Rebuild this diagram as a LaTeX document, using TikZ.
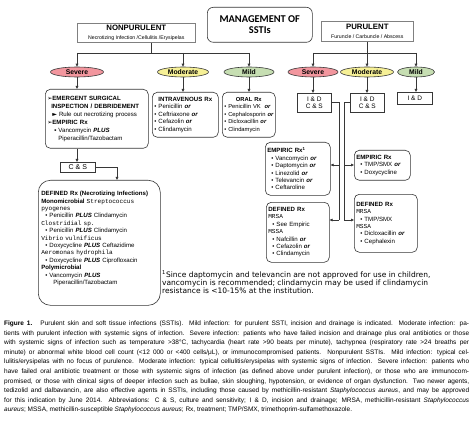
\documentclass[tikz,border=0pt]{standalone}
\usepackage{fontspec}
\setmainfont{Liberation Sans}
\setmonofont{Liberation Mono}
\newfontfamily\titlefont{Carlito}
\newfontfamily\symfont{DejaVu Sans}
\usetikzlibrary{shapes.geometric,arrows.meta}
\definecolor{sevfill}{RGB}{242,150,158}
\definecolor{modfill}{RGB}{246,240,150}
\definecolor{mildfill}{RGB}{198,222,178}
\definecolor{edge}{RGB}{55,55,55}
\newcommand{\bor}{\textbf{\textit{or}}}
\newcommand{\bplus}{\textbf{\textit{PLUS}}}
\newcommand{\species}[1]{{\ttfamily #1}}
\newcommand{\bul}{\hspace*{4pt}•\ }

\begin{document}
\begin{tikzpicture}[x=1pt, y=-1pt,
    every node/.style={font=\fontsize{6.1}{7.4}\selectfont, inner sep=2pt},
    sqbox/.style={draw=edge, line width=0.6pt, anchor=north west},
    rbox/.style={sqbox, rounded corners=5pt, align=left},
    oval/.style={ellipse, draw=edge, line width=0.6pt, minimum height=10pt, inner sep=0pt, font=\fontsize{6.8}{7}\selectfont\bfseries},
    link/.style={draw=edge, line width=0.7pt},
    arr/.style={link, -{Triangle[length=3pt,width=2.6pt]}}]
  \fill[white] (0,0) rectangle (474,425);
  \useasboundingbox (0,0) rectangle (474,425);

  \node[sqbox, rounded corners=6pt, minimum width=105pt, minimum height=35pt, align=center,
        font=\titlefont\bfseries\fontsize{10.4}{11.5}\selectfont] (mgmt) at (207,7) {MANAGEMENT OF\\SSTIs};
  \node[sqbox, draw=gray, minimum width=118pt, minimum height=19pt, align=center, inner sep=1pt,
        font=\fontsize{7.8}{8.6}\selectfont] (nonpur) at (77,23)
        {\textbf{NONPURULENT}\\{\fontsize{5.2}{6}\selectfont Necrotizing Infection /Cellulitis /Erysipelas}};
  \node[sqbox, draw=gray, minimum width=92pt, minimum height=20pt, align=center, inner sep=1pt,
        font=\fontsize{7.8}{8.6}\selectfont] (pur) at (321,21)
        {\textbf{PURULENT}\\{\fontsize{5.2}{6}\selectfont Furuncle / Carbuncle / Abscess}};

  \node[oval, fill=sevfill, minimum width=53pt] (sev1) at (77,72) {Severe};
  \node[oval, fill=modfill, minimum width=51pt] (mod1) at (183,72) {Moderate};
  \node[oval, fill=mildfill, minimum width=50pt] (mild1) at (249,72) {Mild};
  \node[oval, fill=sevfill, minimum width=50pt] (sev2) at (313,72) {Severe};
  \node[oval, fill=modfill, minimum width=53pt] (mod2) at (367,72) {Moderate};
  \node[oval, fill=mildfill, minimum width=37pt] (mild2) at (416,72) {Mild};

  \node[rbox, text width=99pt, minimum height=59pt, font=\fontsize{6.1}{8}\selectfont] (emerg) at (45,89)
    {{\symfont ➢}\textbf{EMERGENT SURGICAL}\\
     \hspace*{4pt}\textbf{INSPECTION / DEBRIDEMENT}\\
     \hspace*{5pt}{\symfont ►} Rule out necrotizing process\\
     {\symfont ➢}\textbf{EMPIRIC Rx}\\
     \hspace*{7pt}▪\ Vancomycin \bplus\\
     \hspace*{11pt}Piperacillin/Tazobactam};
  \node[sqbox, minimum width=35pt, minimum height=10pt, inner sep=0pt, font=\fontsize{7}{8}\selectfont] (cs1) at (60,162) {C \& S};
  \node[rbox, rounded corners=12pt, text width=116pt, minimum height=125pt, inner xsep=3pt] (necro) at (38,180)
    {\textbf{DEFINED Rx (Necrotizing Infections)}\\
     \textbf{Monomicrobial} \species{Streptococcus}\\
     \species{pyogenes}\\
     \bul Penicillin \bplus\ Clindamycin\\
     \species{Clostridial sp.}\\
     \bul Penicillin \bplus\ Clindamycin\\
     \species{Vibrio vulnificus}\\
     \bul Doxycycline \bplus\ Ceftazidime\\
     \species{Aeromonas hydrophila}\\
     \bul Doxycycline \bplus\ Ciprofloxacin\\
     \textbf{Polymicrobial}\\
     \bul Vancomycin \bplus\\
     \hspace*{12pt}Piperacillin/Tazobactam\\[2.6pt]\mbox{}};

  \node[rbox, text width=62pt, minimum height=45pt] (iv) at (152,92)
    {\makebox[\linewidth]{\textbf{INTRAVENOUS Rx}}\\
     • Penicillin \bor\\ • Ceftriaxone \bor\\ • Cefazolin \bor\\ • Clindamycin};
  \node[rbox, text width=52pt, minimum height=45pt, inner xsep=0.5pt, font=\fontsize{5.8}{7.4}\selectfont] (oral) at (222,92)
    {\makebox[\linewidth]{\textbf{ORAL Rx}}\\
     \hspace*{1.5pt}• Penicillin VK\ \ \bor\\ \hspace*{1.5pt}• Cephalosporin \bor\\ \hspace*{1.5pt}• Dicloxacillin \bor\\ \hspace*{1.5pt}• Clindamycin};

  \node[sqbox, minimum width=34pt, minimum height=19pt, inner sep=0pt, align=center, font=\fontsize{6.5}{7.5}\selectfont] (id1) at (297,93) {I \& D\\C \& S};
  \node[sqbox, minimum width=34pt, minimum height=19pt, inner sep=0pt, align=center, font=\fontsize{6.5}{7.5}\selectfont] (id2) at (350,93) {I \& D\\C \& S};
  \node[sqbox, minimum width=35pt, minimum height=12pt, inner sep=0pt, font=\fontsize{6.5}{7.5}\selectfont] (id3) at (397,92) {I \& D};

  \node[rbox, text width=61pt, minimum height=53pt] (emp1) at (265,142)
    {\textbf{EMPIRIC Rx\textsuperscript{1}}\\
     \bul Vancomycin \bor\\ \bul Daptomycin \bor\\ \bul Linezolid \bor\\ \bul Televancin \bor\\ \bul Ceftaroline};
  \node[rbox, text width=52pt, minimum height=30pt] (emp2) at (354,150)
    {\textbf{EMPIRIC Rx}\\ \bul TMP/SMX \bor\\ \bul Doxycycline};
  \node[rbox, text width=59pt, minimum height=60pt] (def1) at (266,202)
    {\textbf{DEFINED Rx}\\ \species{MRSA}\\ \bul See Empiric\\ \species{MSSA}\\
     \bul Nafcillin \bor\\ \bul Cefazolin \bor\\ \bul Clindamycin};
  \node[rbox, text width=59pt, minimum height=58pt] (def2) at (354,194)
    {\textbf{DEFINED Rx}\\ \species{MRSA}\\ \bul TMP/SMX\\ \species{MSSA}\\
     \bul Dicloxacillin \bor\\ \bul Cephalexin};

  \node[anchor=north west, align=left, inner sep=0pt, font=\symfont\fontsize{7.5}{8.2}\selectfont] (note) at (162,270)
    {\textsuperscript{1}Since daptomycin and televancin are not approved for use in children,\\
     vancomycin is recommended; clindamycin may be used if clindamycin\\
     resistance is <10-15\% at the institution.};

  \node[anchor=north west, text width=465pt, align=justify, inner sep=0pt, font=\fontsize{6.5}{9.6}\selectfont] (caption) at (4,320.5)
    {\textbf{Figure 1.}\hspace{8pt}Purulent skin and soft tissue infections (SSTIs). Mild infection: for purulent SSTI, incision and drainage is indicated. Moderate infection: pa-\linebreak
     tients with purulent infection with systemic signs of infection. Severe infection: patients who have failed incision and drainage plus oral antibiotics or those\linebreak
     with systemic signs of infection such as temperature >38°C, tachycardia (heart rate >90 beats per minute), tachypnea (respiratory rate >24 breaths per\linebreak
     minute) or abnormal white blood cell count (<12 000 or <400 cells/μL), or immunocompromised patients. Nonpurulent SSTIs. Mild infection: typical cel-\linebreak
     lulitis/erysipelas with no focus of purulence. Moderate infection: typical cellulitis/erysipelas with systemic signs of infection. Severe infection: patients who\linebreak
     have failed oral antibiotic treatment or those with systemic signs of infection (as defined above under purulent infection), or those who are immunocom-\linebreak
     promised, or those with clinical signs of deeper infection such as bullae, skin sloughing, hypotension, or evidence of organ dysfunction. Two newer agents,\linebreak
     tedizolid and dalbavancin, are also effective agents in SSTIs, including those caused by methicillin-resistant \textit{Staphylococcus aureus}, and may be approved\linebreak
     for this indication by June 2014. Abbreviations: C \& S, culture and sensitivity; I \& D, incision and drainage; MRSA, methicillin-resistant \textit{Staphylococcus}\linebreak
     \textit{aureus}; MSSA, methicillin-susceptible \textit{Staphylococcus aureus}; Rx, treatment; TMP/SMX, trimethoprim-sulfamethoxazole.};

  \coordinate (nj) at (151,53);
  \coordinate (pj) at (367,53);
  \draw[link] (nonpur.south -| nj) -- (nj);
  \draw[link] (sev1 |- nj) -- (mild1 |- nj);
  \draw[link] (pur.south -| pj) -- (pj);
  \draw[link] (sev2 |- pj) -- (mild2 |- pj);
  \foreach \e in {sev1,mod1,mild1,sev2,mod2,mild2}
    \draw[arr] (\e |- nj) -- (\e.north);
  \draw[arr] (sev1.south) -- (sev1 |- emerg.north);
  \draw[arr] (mod1.south) -- (mod1 |- iv.north);
  \draw[arr] (mild1.south) -- (mild1 |- oral.north);
  \draw[arr] (sev2.south) -- (sev2 |- id1.north);
  \draw[arr] (mod2.south) -- (mod2 |- id2.north);
  \draw[arr] (mild2.south) -- (mild2 |- id3.north);

  \draw[arr] (sev1 |- emerg.south) -- (sev1 |- cs1.north);
  \coordinate (csin) at (117,180);
  \draw[arr] (cs1.east) -| (csin);

  \coordinate (ta) at (339,165);
  \coordinate (tb) at (339,220);
  \draw[link] (id1.east) -| (tb);
  \draw[arr] (ta) -- (ta -| emp1.east);
  \draw[arr] (tb) -- (tb -| def1.east);
  \coordinate (tc) at (344,165);
  \coordinate (td) at (344,220);
  \draw[link] (id2.west) -| (td);
  \draw[arr] (tc) -- (tc -| emp2.west);
  \draw[arr] (td) -- (td -| def2.west);
\end{tikzpicture}
\end{document}
